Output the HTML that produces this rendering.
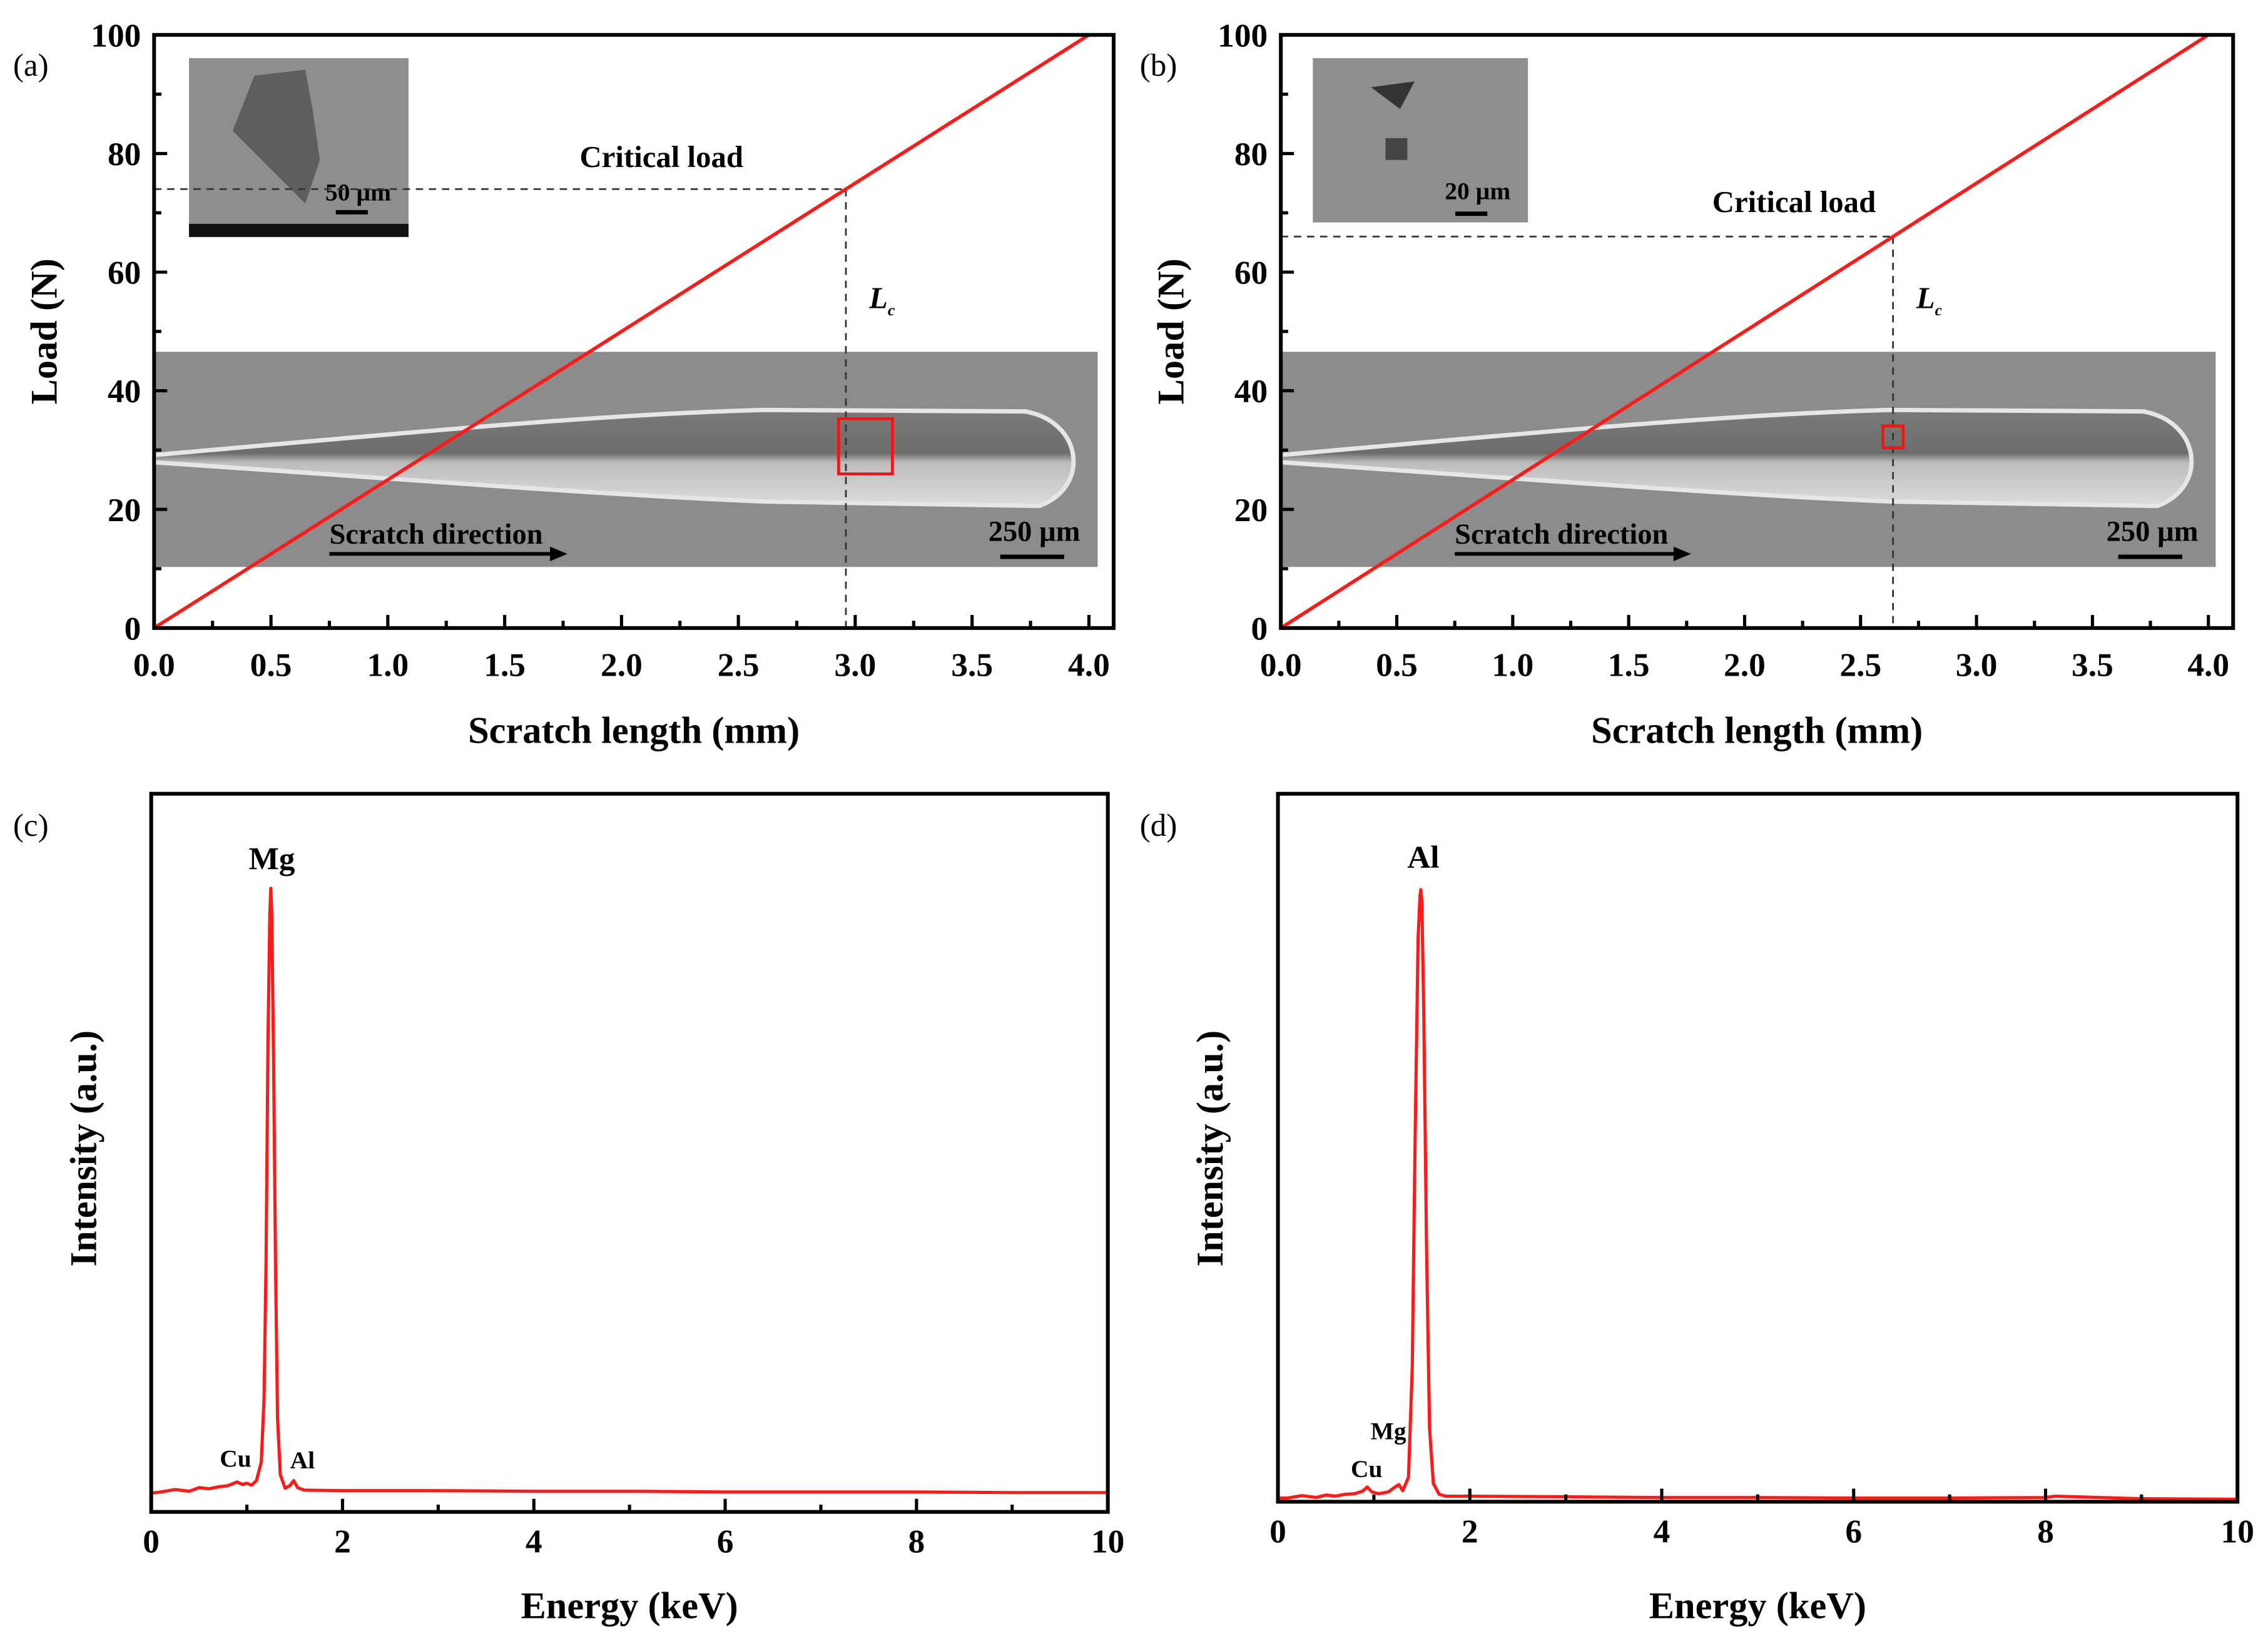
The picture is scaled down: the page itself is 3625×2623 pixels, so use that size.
<!DOCTYPE html>
<html><head><meta charset="utf-8">
<style>
html,body{margin:0;padding:0;background:#fff;}
svg{display:block;}
text{font-family:"Liberation Serif",serif;}
</style></head>
<body>
<svg id="fig" xmlns="http://www.w3.org/2000/svg" width="3625" height="2623" viewBox="0 0 1560 1128.8" preserveAspectRatio="none" font-family="Liberation Serif, serif">
<defs>
<linearGradient id="trackA" x1="0" y1="0" x2="0" y2="1">
<stop offset="0" stop-color="#7a7a7a"/><stop offset="0.45" stop-color="#6d6d6d"/><stop offset="0.55" stop-color="#bdbdbd"/><stop offset="1" stop-color="#dcdcdc"/>
</linearGradient>
</defs>
<g id="root"></g>
</svg>
<script>
// ---- Data ----
const loadStart = 0, loadEnd = 100;           // linear load ramp (N)
const lengthStart = 0, lengthEnd = 4.0;       // scratch length (mm)
const criticalA = 2.96, criticalLoadA = 74;   // panel a
const criticalB = 2.64, criticalLoadB = 66;   // panel b
const xTicksScratch = [0,0.5,1.0,1.5,2.0,2.5,3.0,3.5,4.0];
const xTickLabelsScratch = ["0.0","0.5","1.0","1.5","2.0","2.5","3.0","3.5","4.0"];
const yTicksLoad = [0,20,40,60,80,100];
const xTicksEnergy = [0,2,4,6,8,10];

const energyC = [0,0.1,0.25,0.4,0.5,0.6,0.7,0.8,0.9,0.95,1.0,1.05,1.1,1.15,1.18,1.2,1.22,1.24,1.25,1.26,1.28,1.3,1.32,1.35,1.4,1.45,1.49,1.53,1.6,2,3,4,5,6,7,8,9,10];
const countsC = [3.0,3.2,3.6,3.3,3.9,3.7,4.0,4.2,4.8,4.4,4.6,4.3,5.0,8,18,40,75,96,100,96,72,40,15,6,3.8,4.2,5.0,3.9,3.5,3.4,3.4,3.3,3.3,3.2,3.2,3.2,3.1,3.1];
const energyD = [0,0.1,0.25,0.4,0.5,0.6,0.7,0.8,0.88,0.93,0.98,1.05,1.15,1.22,1.26,1.3,1.36,1.4,1.43,1.46,1.48,1.49,1.5,1.52,1.55,1.58,1.62,1.68,1.75,2,3,4,5,6,7,8,8.1,9,10];
const countsD = [0.6,0.6,1.0,0.7,1.1,0.9,1.2,1.3,1.7,2.4,1.6,1.3,1.6,2.4,2.8,1.8,4,22,60,92,99,100,98,80,40,12,3,1.2,0.9,0.9,0.8,0.7,0.7,0.6,0.6,0.7,0.9,0.5,0.4];

// ---- Helpers ----
const NS="http://www.w3.org/2000/svg";
const root=document.getElementById('root');
function mk(tag,attrs,parent,txt){const e=document.createElementNS(NS,tag);for(const k in attrs)e.setAttribute(k,attrs[k]);if(txt!==undefined)e.textContent=txt;(parent||root).appendChild(e);return e;}
function lin(d0,d1,p0,p1){return v=>p0+(v-d0)*(p1-p0)/(d1-d0);}

function scratchPanel(o){
  const g=mk('g',{});
  
  
  const x=lin(0,4,o.x0,o.x4), y=lin(0,100,o.bottom,o.top);
  const strip=mk('g',{},g);
  
  
  mk('rect',{x:o.left,y:242,width:o.stripR-o.left,height:148,fill:'#8c8c8c'},strip);
  const tx=o.left, tr=o.stripR-10;
  mk('path',{d:`M${tx} 313 C ${tx+150} 300 ${tx+300} 285 ${tx+420} 282 L ${tr-40} 283 C ${tr} 290 ${tr+5} 335 ${tr-30} 348 L ${tx+420} 345 C ${tx+300} 340 ${tx+150} 328 ${tx} 318 Z`,fill:'url(#trackA)',stroke:'#e6e6e6','stroke-width':3},strip);
  const ins=mk('g',{},g);
  
  
  mk('rect',{x:o.inX,y:40,width:o.inW,height:o.inH,fill:'#8e8e8e'},ins);
  if(o.tag==='a'){
    mk('path',{d:`M${o.inX+45} 52 L ${o.inX+80} 48 L ${o.inX+85} 75 L ${o.inX+90} 110 L ${o.inX+80} 140 L ${o.inX+55} 115 L ${o.inX+30} 90 Z`,fill:'#5e5e5e'},ins);
    mk('rect',{x:o.inX,y:o.inH+40-9,width:o.inW,height:9,fill:'#111'},ins);
  } else {
    mk('path',{d:`M${o.inX+40} 60 L ${o.inX+70} 56 L ${o.inX+60} 75 Z`,fill:'#333'},ins);
    mk('rect',{x:o.inX+50,y:95,width:15,height:15,fill:'#444'},ins);
  }
  mk('text',{x:o.inX+o.inW-12,y:o.tag==='a'?138:137,'font-size':17,'font-weight':'bold','text-anchor':'end'},ins,o.tag==='a'?'50 µm':'20 µm');
  mk('line',{x1:o.inX+o.inW-50,x2:o.inX+o.inW-28,y1:o.tag==='a'?146:147,y2:o.tag==='a'?146:147,stroke:'#000','stroke-width':3},ins);
  const sd=mk('text',{x:x(0.75),y:374,'font-size':20,'font-weight':'bold'},g,'Scratch direction');
  
  
  mk('line',{x1:x(0.75),x2:x(1.75),y1:381,y2:381,stroke:'#000','stroke-width':2.5},g);
  mk('path',{d:`M${x(1.75)+3} 381 l -12 -5 l 0 10 z`,fill:'#000'},g);
  mk('text',{x:o.stripR-12,y:372,'font-size':20,'font-weight':'bold','text-anchor':'end'},g,'250 µm');
  mk('line',{x1:o.stripR-67,x2:o.stripR-23,y1:383,y2:383,stroke:'#000','stroke-width':3},g);
  const cx=x(o.crit), cy=y(o.critLoad);
  const dh=mk('line',{x1:o.left,x2:cx,y1:cy,y2:cy,stroke:'#333','stroke-width':1.2,'stroke-dasharray':'5,4'},g);
  
  
  const dv=mk('line',{x1:cx,x2:cx,y1:cy,y2:o.bottom,stroke:'#333','stroke-width':1.2,'stroke-dasharray':'5,4'},g);
  
  
  mk('rect',{x:cx+o.boxDx,y:o.boxY,width:o.boxW,height:o.boxH,fill:'none',stroke:'#ff1010','stroke-width':2},g);
  const cl=mk('text',{x:o.clX,y:o.clY,'font-size':21,'font-weight':'bold','text-anchor':'middle'},g,'Critical load');
  
  
  const lc=mk('text',{x:cx+16,y:212,'font-size':21,'font-weight':'bold','font-style':'italic'},g,'L');
  
  
  mk('tspan',{'font-size':11,dy:5},lc,'c');
  const ll=mk('line',{x1:x(lengthStart),y1:y(loadStart),x2:x(lengthEnd),y2:y(loadEnd),stroke:'#ff1a1a','stroke-width':2.4},g);
  
  
  const fr=mk('rect',{x:o.left,y:o.top,width:o.right-o.left,height:o.bottom-o.top,fill:'none',stroke:'#000','stroke-width':2.6},g);
  
  
  for(let v=0;v<=4.0001;v+=0.25){const big=Math.abs(v*2-Math.round(v*2))<1e-6;mk('line',{x1:x(v),x2:x(v),y1:o.bottom,y2:o.bottom-(big?9:5),stroke:'#000','stroke-width':2.2},g);}
  for(let v=0;v<=100;v+=10){const big=v%20===0;mk('line',{x1:o.left,x2:o.left+(big?9:5),y1:y(v),y2:y(v),stroke:'#000','stroke-width':2.2},g);}
  xTicksScratch.forEach((v,i)=>{const t=mk('text',{x:x(v),y:465,'font-size':23,'font-weight':'bold','text-anchor':'middle'},g,xTickLabelsScratch[i]);
    
    });
  yTicksLoad.forEach(v=>{const t=mk('text',{x:o.left-9,y:y(v)+8,'font-size':23,'font-weight':'bold','text-anchor':'end'},g,String(v));
    
    });
  const xt=mk('text',{x:(o.left+o.right)/2,y:511,'font-size':26,'font-weight':'bold','text-anchor':'middle'},g,'Scratch length (mm)');
  
  
  const yt=mk('text',{x:0,y:0,'font-size':26,'font-weight':'bold','text-anchor':'middle',transform:`translate(${o.left-67},228) rotate(-90)`},g,'Load (N)');
  
  
  const pl=mk('text',{x:o.left-97,y:52,'font-size':22},g,'('+o.tag+')');
  
  
}

function edsPanel(o){
  const g=mk('g',{});
  
  
  const x=lin(0,10,o.left,o.right), y=lin(0,100,o.bottom,o.peakY);
  const pts=o.en.map((e,i)=>x(e).toFixed(1)+','+y(o.ct[i]).toFixed(1)).join(' ');
  const sp=mk('polyline',{points:pts,fill:'none',stroke:'#ff1a1a','stroke-width':2.2,'stroke-linejoin':'round'},g);
  
  
  const fr=mk('rect',{x:o.left,y:o.top,width:o.right-o.left,height:o.bottom-o.top,fill:'none',stroke:'#000','stroke-width':2.6},g);
  
  
  for(let v=0;v<=10;v++){mk('line',{x1:x(v),x2:x(v),y1:o.bottom,y2:o.bottom-(v%2===0?9:5),stroke:'#000','stroke-width':2.2},g);}
  xTicksEnergy.forEach(v=>{const t=mk('text',{x:x(v),y:o.bottom+28,'font-size':23,'font-weight':'bold','text-anchor':'middle'},g,String(v));
    
    });
  const xt=mk('text',{x:(o.left+o.right)/2,y:1113,'font-size':26,'font-weight':'bold','text-anchor':'middle'},g,'Energy (keV)');
  
  
  const yt=mk('text',{x:0,y:0,'font-size':26,'font-weight':'bold','text-anchor':'middle',transform:`translate(${o.left-38},790) rotate(-90)`},g,'Intensity (a.u.)');
  
  
  o.labels.forEach(l=>{const t=mk('text',{x:l[1],y:l[2],'font-size':l[3],'font-weight':'bold','text-anchor':'middle'},g,l[0]);
    
    });
  const pl=mk('text',{x:o.left-95,y:575,'font-size':22},g,'('+o.tag+')');
  
  
}

scratchPanel({name:'panel-a-scratch',tag:'a',left:106,right:766,top:24,bottom:432,x0:106,x4:749,stripR:755,
  inX:130,inW:151,inH:123,crit:criticalA,critLoad:criticalLoadA,boxDx:-5,boxY:288,boxW:37,boxH:38,clX:455,clY:115});
scratchPanel({name:'panel-b-scratch',tag:'b',left:881,right:1536,top:24,bottom:432,x0:881,x4:1519,stripR:1524,
  inX:903,inW:148,inH:113,crit:criticalB,critLoad:criticalLoadB,boxDx:-7,boxY:293,boxW:14,boxH:15,clX:1234,clY:146});
edsPanel({name:'panel-c-eds',tag:'c',left:104,right:762,top:546,bottom:1040,peakY:611,en:energyC,ct:countsC,
  labels:[['Mg',187,598,22],['Cu',162,1009,17],['Al',208,1010,17]]});
edsPanel({name:'panel-d-eds',tag:'d',left:879,right:1539,top:546,bottom:1033,peakY:612,en:energyD,ct:countsD,
  labels:[['Al',979,597,22],['Mg',955,990,17],['Cu',940,1016,17]]});
</script>
</body></html>
